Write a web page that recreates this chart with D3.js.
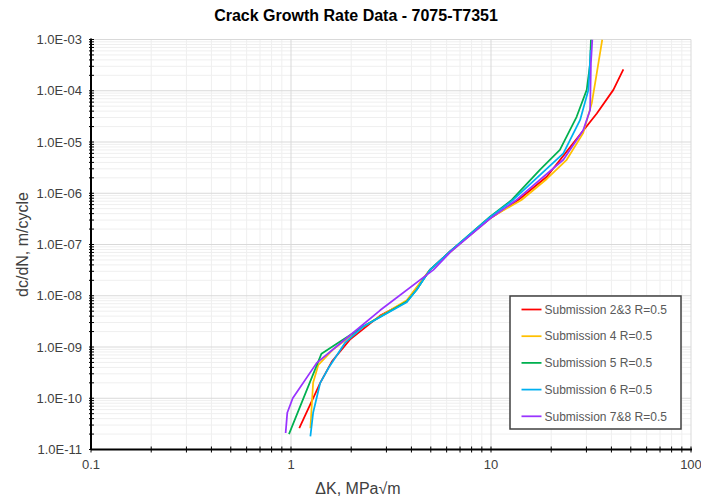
<!DOCTYPE html>
<html>
<head>
<meta charset="utf-8">
<script src="https://cdn.jsdelivr.net/npm/d3@7"></script>
<style>
  html, body { margin: 0; padding: 0; background: #fff; }
  svg { display: block; font-family: "Liberation Sans", Arial, sans-serif; }
</style>
</head>
<body>
<div id="chart"></div>
<script>
(function(){
  // Crack growth rate curves, log-log.
  const seriesNames = [
    'Submission 2&3 R=0.5',
    'Submission 4 R=0.5',
    'Submission 5 R=0.5',
    'Submission 6 R=0.5',
    'Submission 7&8 R=0.5'
  ];
  const seriesColors = ['#ff0000', '#ffc000', '#00b050', '#00b0f0', '#9933ff'];

  // [deltaK MPa*sqrt(m), dc/dN m/cycle]
  const sub23 = [[1.10,2.6e-11],[1.40,2.0e-10],[1.60,5.2e-10],[1.97,1.39e-9],[2.79,4.1e-9],[3.79,7.7e-9],
    [4.95,3.2e-8],[6.24,7.3e-8],[9.89,3.2e-7],[13.7,7.4e-7],[19.0,2.1e-6],[25.8,9.5e-6],[33.8,3.6e-5],
    [40.9,1.04e-4],[45.9,2.6e-4]];
  const sub4 = [[1.25,2.6e-11],[1.29,2.0e-10],[1.37,4.5e-10],[1.62,8.9e-10],[2.30,2.5e-9],[3.79,8.2e-9],
    [4.95,3.2e-8],[6.24,7.0e-8],[9.89,3.3e-7],[14.2,7.4e-7],[19.0,1.9e-6],[23.9,4.5e-6],[28.9,1.49e-5],
    [31.9,5.7e-5],[33.8,2.2e-4],[36.0,1.0e-3]];
  const sub5 = [[0.977,2.0e-11],[1.42,7.4e-10],[1.62,1.03e-9],[2.30,2.5e-9],[3.79,7.7e-9],[4.25,1.31e-8],
    [4.95,3.2e-8],[6.24,7.3e-8],[9.89,3.5e-7],[12.7,7.4e-7],[17.6,2.9e-6],[22.1,7.0e-6],[26.8,3.1e-5],
    [30.1,1.04e-4],[31.3,3.4e-4],[31.6,1.0e-3]];
  const sub6 = [[1.25,1.8e-11],[1.29,5.2e-11],[1.40,2.0e-10],[1.54,3.9e-10],[1.86,1.2e-9],[2.30,2.5e-9],
    [3.79,7.5e-9],[4.25,1.31e-8],[4.95,3.2e-8],[6.24,7.3e-8],[9.89,3.4e-7],[12.9,7.4e-7],[23.0,6.0e-6],
    [27.9,2.7e-5],[30.7,1.04e-4],[31.5,6.2e-4]];
  const sub78 = [[0.94,2.1e-11],[0.958,5.2e-11],[1.02,1.0e-10],[1.345,4.9e-10],[1.90,1.5e-9],[2.79,5.2e-9],
    [5.15,3.2e-8],[6.24,7.0e-8],[9.89,3.2e-7],[13.4,7.4e-7],[23.0,4.5e-6],[28.9,1.7e-5],[31.3,4.2e-5],
    [31.6,3.4e-4],[32.1,1.0e-3]];
  const seriesData = [sub23, sub4, sub5, sub6, sub78];

  const xTicks = [0.1, 1, 10, 100];
  const yTicks = [1e-11, 1e-10, 1e-9, 1e-8, 1e-7, 1e-6, 1e-5, 1e-4, 1e-3];

  const width = 701, height = 498;
  const margin = {top: 39.5, right: 10, bottom: 48.5, left: 91};
  const plotW = 691 - margin.left, plotH = 449.5 - margin.top;

  const svg = d3.select('#chart').append('svg').attr('width', width).attr('height', height);
  const plot = svg.append('g').attr('transform', `translate(${margin.left},${margin.top})`);

  const x = d3.scaleLog().domain([0.1, 100]).range([0, plotW]);
  const y = d3.scaleLog().domain([1e-11, 1e-3]).range([plotH, 0]);

  // minor positions 2..9 per decade
  const minorX = [], minorY = [];
  for (let e = -1; e < 2; e++) for (let m = 2; m <= 9; m++) minorX.push(m * Math.pow(10, e));
  for (let e = -11; e < -3; e++) for (let m = 2; m <= 9; m++) minorY.push(m * Math.pow(10, e));

  // Gridlines: minor first, then major on top.
  const grid = plot.append('g').attr('class', 'grid');
  grid.selectAll('line.minx').data(minorX).join('line')
    .attr('x1', d => x(d)).attr('x2', d => x(d)).attr('y1', 0).attr('y2', plotH)
    .attr('stroke', '#efefef').attr('stroke-width', 1);
  grid.selectAll('line.miny').data(minorY).join('line')
    .attr('x1', 0).attr('x2', plotW).attr('y1', d => y(d)).attr('y2', d => y(d))
    .attr('stroke', '#efefef').attr('stroke-width', 1);
  grid.selectAll('line.majx').data(xTicks).join('line')
    .attr('x1', d => x(d)).attr('x2', d => x(d)).attr('y1', 0).attr('y2', plotH)
    .attr('stroke', '#d9d9d9').attr('stroke-width', 1);
  grid.selectAll('line.majy').data(yTicks).join('line')
    .attr('x1', 0).attr('x2', plotW).attr('y1', d => y(d)).attr('y2', d => y(d))
    .attr('stroke', '#d9d9d9').attr('stroke-width', 1);

  // Curves, clipped to the plot area.
  svg.append('defs').append('clipPath').attr('id', 'clip')
    .append('rect').attr('width', plotW).attr('height', plotH);
  const line = d3.line().x(d => x(d[0])).y(d => y(d[1]));
  plot.append('g').attr('clip-path', 'url(#clip)')
    .selectAll('path').data(seriesData).join('path')
    .attr('d', line)
    .attr('fill', 'none')
    .attr('stroke', (d, i) => seriesColors[i])
    .attr('stroke-width', 1.75)
    .attr('stroke-linejoin', 'round');

  // Axes: plain black lines with small crossing minor ticks.
  const fmtY = d => {
    const e = Math.round(Math.log10(d));
    return '1.0E' + (e < 0 ? '-' : '+') + String(Math.abs(e)).padStart(2, '0');
  };
  const xAxis = plot.append('g').attr('transform', `translate(0,${plotH})`);
  xAxis.selectAll('line.tick').data(minorX.concat(xTicks)).join('line')
    .attr('x1', d => x(d)).attr('x2', d => x(d)).attr('y1', -3).attr('y2', 3)
    .attr('stroke', '#000').attr('stroke-width', 1);
  xAxis.append('line').attr('x1', 0).attr('x2', plotW + 1).attr('stroke', '#000').attr('stroke-width', 2);
  xAxis.selectAll('text').data(xTicks).join('text')
    .attr('x', d => x(d)).attr('y', 19)
    .attr('text-anchor', 'middle').attr('font-size', 13).attr('fill', '#404040')
    .text(d => String(d));

  const yAxis = plot.append('g');
  yAxis.selectAll('line.tick').data(minorY.concat(yTicks)).join('line')
    .attr('x1', -2).attr('x2', 3).attr('y1', d => y(d)).attr('y2', d => y(d))
    .attr('stroke', '#000').attr('stroke-width', 1);
  yAxis.append('line').attr('y1', -1).attr('y2', plotH).attr('stroke', '#000').attr('stroke-width', 2);
  yAxis.selectAll('text').data(yTicks).join('text')
    .attr('x', -9).attr('y', d => y(d)).attr('dy', '0.35em')
    .attr('text-anchor', 'end').attr('font-size', 13).attr('fill', '#404040')
    .text(fmtY);

  // Titles
  svg.append('text').attr('x', 356).attr('y', 21)
    .attr('text-anchor', 'middle').attr('font-size', 16).attr('font-weight', 'bold').attr('fill', '#000')
    .text('Crack Growth Rate Data - 7075-T7351');
  svg.append('text').attr('x', 358).attr('y', 494)
    .attr('text-anchor', 'middle').attr('font-size', 16).attr('fill', '#404040')
    .text('\u0394K, MPa\u221Am');
  svg.append('text')
    .attr('transform', `translate(28,${margin.top + plotH / 2}) rotate(-90)`)
    .attr('text-anchor', 'middle').attr('font-size', 16).attr('fill', '#404040')
    .text('dc/dN, m/cycle');

  // Legend box, lower right inside the plot.
  const legend = svg.append('g').attr('transform', 'translate(510,296)');
  legend.append('rect').attr('width', 171).attr('height', 133)
    .attr('fill', '#fff').attr('stroke', '#404040').attr('stroke-width', 1.5);
  const items = legend.selectAll('g.item').data(seriesNames).join('g')
    .attr('transform', (d, i) => `translate(0,${13.5 + i * 26.7})`);
  items.append('line').attr('x1', 11.5).attr('x2', 31.5)
    .attr('stroke', (d, i) => seriesColors[i]).attr('stroke-width', 1.75);
  items.append('text').attr('x', 34.5).attr('dy', '0.35em')
    .attr('font-size', 12).attr('fill', '#595959')
    .text(d => d);
})();
</script>
</body>
</html>
